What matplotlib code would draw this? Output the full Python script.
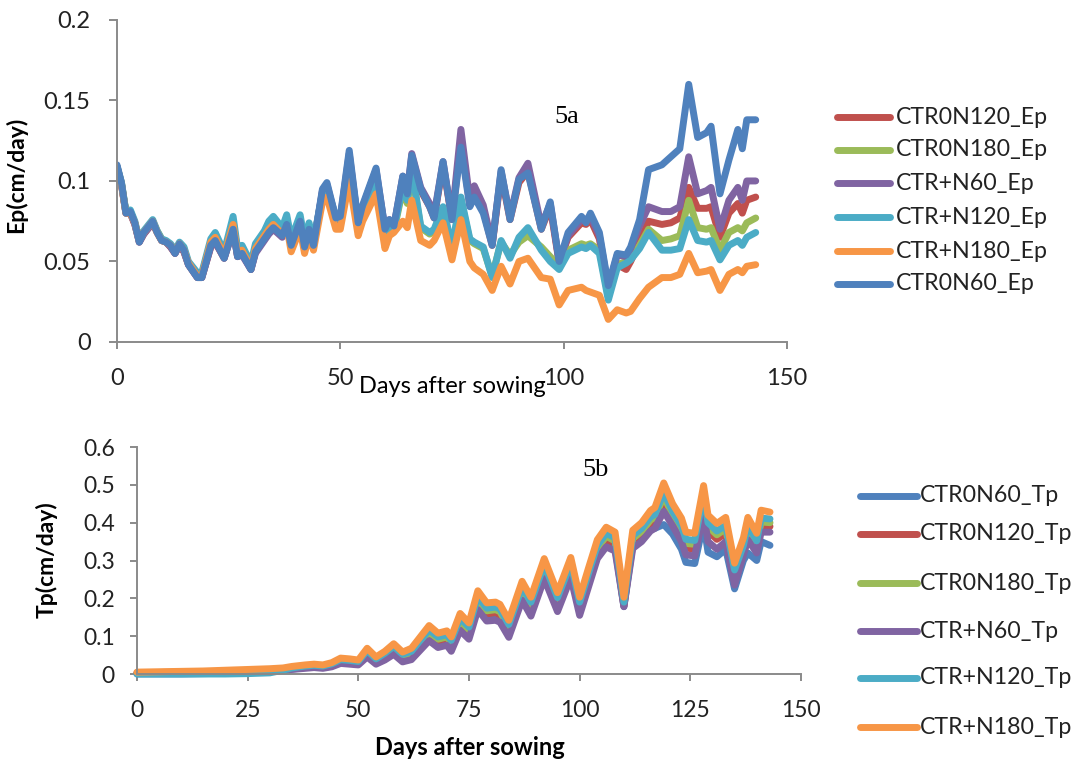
import matplotlib.pyplot as plt
from matplotlib.lines import Line2D

plt.rcParams['font.family'] = ['Lato', 'DejaVu Sans']

# ---- Fig 5a: Ep (cm/day) ----
days_a = [0, 1, 2, 3, 4, 5, 6, 8, 9, 10, 11, 12, 13, 14, 15, 16, 18, 19, 21, 22,
          24, 26, 27, 28, 30, 31, 33, 34, 35, 37, 38, 39, 41, 42, 43, 44, 46, 47, 49, 50,
          52, 54, 55, 58, 60, 61, 62, 64, 65, 66, 68, 70, 71, 73, 75, 77, 79, 80, 82, 84,
          86, 88, 90, 92, 95, 97, 99, 101, 104, 105, 106, 108, 110, 112, 114, 115, 117, 119, 122, 124,
          126, 128, 130, 132, 133, 135, 137, 139, 140, 141, 143]

ep_ctr0n120 = [.109, .098, .080, .080, .073, .062, .067, .074, .068, .063, .062, .059, .055, .060, .056, .048, .040, .040, .059, .062,
               .052, .070, .053, .055, .045, .056, .064, .068, .071, .066, .073, .060, .074, .059, .069, .060, .093, .097, .075, .076,
               .115, .072, .083, .105, .069, .075, .071, .101, .091, .114, .094, .084, .077, .110, .076, .125, .085, .092, .082, .060,
               .104, .076, .099, .106, .070, .084, .049, .065, .074, .073, .076, .064, .033, .048, .045, .050, .062, .075, .073, .074,
               .077, .096, .083, .083, .084, .065, .080, .086, .080, .088, .090]
ep_ctr0n180 = [.109, .099, .081, .081, .074, .063, .068, .075, .069, .064, .062, .060, .056, .061, .058, .049, .042, .042, .062, .066,
               .054, .075, .056, .058, .047, .059, .067, .072, .075, .069, .077, .062, .077, .061, .072, .062, .091, .095, .076, .075,
               .110, .073, .080, .100, .067, .072, .069, .095, .086, .106, .071, .067, .069, .082, .058, .088, .063, .061, .058, .041,
               .062, .054, .062, .066, .059, .053, .047, .057, .061, .060, .061, .057, .028, .048, .050, .052, .060, .070, .063, .064,
               .066, .088, .071, .070, .071, .057, .068, .071, .069, .074, .077]
ep_ctrn60 = [.109, .098, .080, .080, .073, .062, .067, .074, .068, .063, .062, .059, .055, .060, .056, .048, .040, .040, .059, .062,
             .052, .069, .053, .054, .045, .055, .063, .067, .070, .065, .072, .060, .074, .059, .069, .060, .094, .098, .076, .077,
             .117, .073, .084, .107, .070, .076, .072, .103, .093, .117, .096, .086, .079, .112, .077, .132, .088, .097, .085, .061,
             .106, .078, .102, .111, .072, .086, .050, .066, .076, .076, .078, .066, .034, .054, .053, .058, .072, .084, .081, .081,
             .084, .115, .092, .094, .096, .070, .088, .096, .088, .100, .100]
ep_ctrn120 = [.109, .099, .081, .082, .075, .063, .069, .076, .069, .064, .063, .061, .057, .062, .059, .050, .043, .043, .064, .068,
              .056, .078, .058, .060, .049, .061, .069, .075, .078, .071, .079, .064, .079, .063, .074, .063, .092, .096, .078, .076,
              .112, .075, .082, .102, .068, .073, .070, .097, .088, .108, .072, .068, .070, .084, .059, .090, .064, .062, .059, .040,
              .063, .052, .065, .071, .057, .050, .045, .055, .059, .058, .060, .055, .026, .046, .049, .051, .058, .068, .057, .057,
              .058, .076, .063, .062, .063, .051, .060, .063, .060, .065, .068]
ep_ctrn180 = [.108, .098, .080, .080, .074, .063, .068, .075, .068, .063, .062, .060, .056, .061, .057, .049, .041, .041, .062, .065,
              .054, .073, .055, .057, .046, .058, .066, .070, .073, .067, .072, .056, .070, .055, .066, .057, .087, .090, .070, .070,
              .100, .066, .075, .092, .058, .066, .068, .075, .071, .088, .063, .060, .063, .074, .051, .076, .050, .046, .042, .032,
              .047, .036, .050, .052, .040, .039, .023, .032, .034, .032, .031, .029, .014, .020, .018, .019, .027, .034, .040, .040,
              .042, .055, .043, .044, .045, .032, .042, .045, .043, .047, .048]
ep_ctr0n60 = [.110, .099, .080, .081, .074, .062, .068, .075, .068, .063, .062, .060, .055, .061, .057, .048, .040, .040, .060, .063,
              .052, .070, .053, .055, .045, .056, .064, .068, .071, .066, .073, .060, .075, .059, .070, .060, .095, .099, .077, .078,
              .119, .074, .085, .108, .070, .076, .072, .103, .092, .116, .095, .084, .077, .112, .076, .121, .084, .090, .080, .060,
              .107, .076, .101, .105, .070, .087, .050, .068, .078, .074, .080, .068, .035, .055, .054, .059, .076, .107, .110, .115,
              .120, .160, .127, .130, .134, .092, .113, .132, .120, .138, .138]

labels_a = ['CTR0N120_Ep', 'CTR0N180_Ep', 'CTR+N60_Ep', 'CTR+N120_Ep', 'CTR+N180_Ep', 'CTR0N60_Ep']
series_a = [ep_ctr0n120, ep_ctr0n180, ep_ctrn60, ep_ctrn120, ep_ctrn180, ep_ctr0n60]
colors_a = ['#C0504D', '#9BBB59', '#8064A2', '#4BACC6', '#F79646', '#4F81BD']

# ---- Fig 5b: Tp (cm/day) ----
days_b = [0, 5, 10, 15, 20, 25, 30, 33, 35, 38, 40, 42, 44, 46, 48, 50, 52, 54, 56, 58,
          60, 62, 64, 66, 68, 70, 71, 73, 75, 77, 79, 81, 82, 84, 87, 89, 92, 95, 98, 100,
          102, 104, 106, 108, 110, 112, 114, 116, 117, 119, 121, 123, 124, 126, 128, 129, 131, 133, 135, 137,
          138, 140, 141, 143]

tp_ctr0n60 = [.000, .000, .000, .001, .002, .004, .007, .010, .013, .017, .019, .017, .021, .031, .029, .026, .050, .030, .042, .058,
              .038, .045, .071, .097, .079, .085, .070, .126, .102, .182, .152, .155, .150, .109, .207, .166, .266, .179, .268, .168,
              .242, .317, .348, .335, .178, .342, .358, .382, .385, .395, .370, .330, .295, .292, .400, .322, .310, .330, .225, .300,
              .320, .300, .350, .340]
tp_ctr0n120 = [.003, .004, .005, .006, .007, .009, .011, .012, .014, .018, .020, .018, .022, .033, .031, .028, .054, .033, .046, .063,
               .043, .050, .077, .103, .085, .091, .076, .133, .109, .189, .159, .162, .157, .116, .214, .174, .274, .187, .276, .175,
               .250, .325, .356, .344, .180, .350, .369, .398, .405, .460, .408, .370, .333, .330, .452, .378, .356, .372, .255, .320,
               .373, .334, .392, .390]
tp_ctr0n180 = [.002, .003, .004, .005, .006, .008, .010, .012, .015, .019, .021, .019, .024, .035, .033, .030, .058, .036, .050, .068,
               .047, .055, .083, .110, .092, .098, .083, .141, .117, .197, .167, .170, .165, .124, .222, .182, .282, .195, .284, .183,
               .258, .333, .364, .352, .185, .358, .377, .407, .414, .470, .420, .382, .345, .343, .465, .390, .368, .384, .266, .331,
               .384, .344, .402, .400]
tp_ctrn60 = [.002, .003, .004, .005, .006, .007, .009, .010, .012, .015, .017, .015, .019, .028, .026, .024, .045, .026, .037, .052,
             .032, .038, .063, .088, .070, .076, .060, .115, .092, .170, .140, .142, .137, .097, .195, .153, .252, .165, .255, .155,
             .230, .305, .336, .325, .178, .332, .350, .378, .385, .430, .392, .350, .315, .312, .425, .350, .330, .350, .235, .315,
             .355, .320, .375, .375]
tp_ctrn120 = [.000, .000, .000, .000, .000, .001, .003, .010, .016, .021, .023, .021, .027, .038, .036, .033, .062, .040, .055, .073,
              .052, .060, .089, .117, .098, .104, .089, .148, .124, .205, .174, .177, .172, .131, .230, .190, .290, .202, .292, .190,
              .266, .340, .372, .360, .190, .366, .385, .415, .422, .480, .430, .392, .356, .353, .475, .400, .378, .393, .275, .340,
              .393, .352, .412, .410]
tp_ctrn180 = [.005, .006, .007, .008, .010, .012, .014, .016, .020, .024, .026, .024, .030, .042, .040, .037, .068, .045, .060, .080,
              .058, .068, .098, .128, .108, .114, .098, .160, .135, .220, .188, .190, .184, .142, .245, .203, .305, .215, .308, .203,
              .280, .355, .388, .375, .203, .380, .400, .432, .440, .505, .450, .412, .375, .372, .498, .420, .398, .414, .293, .360,
              .414, .372, .433, .428]

labels_b = ['CTR0N60_Tp', 'CTR0N120_Tp', 'CTR0N180_Tp', 'CTR+N60_Tp', 'CTR+N120_Tp', 'CTR+N180_Tp']
series_b = [tp_ctr0n60, tp_ctr0n120, tp_ctr0n180, tp_ctrn60, tp_ctrn120, tp_ctrn180]
colors_b = ['#4F81BD', '#C0504D', '#9BBB59', '#8064A2', '#4BACC6', '#F79646']

fig = plt.figure(figsize=(10.76, 7.64), dpi=100)
ax1 = fig.add_axes([0.1087, 0.5524, 0.6227, 0.4215])
ax2 = fig.add_axes([0.1273, 0.1178, 0.6171, 0.2971])

for ax in (ax1, ax2):
    for s in ('top', 'right'):
        ax.spines[s].set_visible(False)
    for s in ('left', 'bottom'):
        ax.spines[s].set_color('#8a8a8a')
        ax.spines[s].set_linewidth(1.4)
    ax.tick_params(colors='#8a8a8a', labelcolor='#222222', width=1.4)

# top chart
for y, c in zip(series_a, colors_a):
    ax1.plot(days_a, y, color=c, lw=5, solid_joinstyle='round', solid_capstyle='round')
ax1.set_xlim(0, 150)
ax1.set_ylim(0, 0.2)
ax1.set_xticks([0, 50, 100, 150])
ax1.set_yticks([0, 0.05, 0.1, 0.15, 0.2])
ax1.set_yticklabels(['0', '0.05', '0.1', '0.15', '0.2'])
ax1.tick_params(axis='x', length=5, pad=14, labelsize=17)
ax1.tick_params(axis='y', length=6, pad=13, labelsize=17)
ax1.set_ylabel('Ep(cm/day)', fontsize=16.5, fontweight='bold')
ax1.yaxis.set_label_coords(-0.134, 0.519)
ax1.set_xlabel('Days after sowing', fontsize=17)
ax1.xaxis.set_label_coords(0.5, -0.137)
ax1.xaxis.label.set_va('center')
ax1.text(0.672, 0.699, '5a', transform=ax1.transAxes, fontsize=19,
         family='Liberation Serif', ha='center', va='center')

# bottom chart
for y, c in zip(series_b, colors_b):
    ax2.plot(days_b, y, color=c, lw=5, solid_joinstyle='round', solid_capstyle='round', clip_on=False)
ax2.set_xlim(0, 150)
ax2.set_ylim(0, 0.6)
ax2.set_xticks([0, 25, 50, 75, 100, 125, 150])
ax2.set_yticks([0, 0.1, 0.2, 0.3, 0.4, 0.5, 0.6])
ax2.set_yticklabels(['0', '0.1', '0.2', '0.3', '0.4', '0.5', '0.6'])
ax2.tick_params(axis='x', length=5, pad=14, labelsize=16.5)
ax2.tick_params(axis='y', length=5, pad=11, labelsize=16.5)
ax2.set_ylabel('Tp(cm/day)', fontsize=16.5, fontweight='bold')
ax2.yaxis.set_label_coords(-0.119, 0.502)
ax2.set_xlabel('Days after sowing', fontsize=17, fontweight='bold')
ax2.xaxis.set_label_coords(0.5015, -0.326)
ax2.xaxis.label.set_va('center')
ax2.text(0.69, 0.899, '5b', transform=ax2.transAxes, fontsize=19,
         family='Liberation Serif', ha='center', va='center')

# legends drawn by hand to match the original spacing
W, H = 1076, 764
rows_a = [117, 150, 183, 217, 251, 284]
for lab, c, yp in zip(labels_a, colors_a, rows_a):
    fig.add_artist(Line2D([837 / W, 890 / W], [1 - yp / H] * 2, color=c, lw=5,
                          solid_capstyle='round', transform=fig.transFigure))
    fig.text(896 / W, 1 - yp / H, lab, fontsize=16.7, va='center', ha='left', color='#222222')

rows_b = [496, 534, 583, 631, 678, 727]
for lab, c, yp in zip(labels_b, colors_b, rows_b):
    fig.add_artist(Line2D([860 / W, 917 / W], [1 - yp / H] * 2, color=c, lw=5,
                          solid_capstyle='round', transform=fig.transFigure))
    fig.text(920 / W, 1 - yp / H, lab, fontsize=16.7, va='center', ha='left', color='#222222')

fig.savefig('out.png', dpi=100)
